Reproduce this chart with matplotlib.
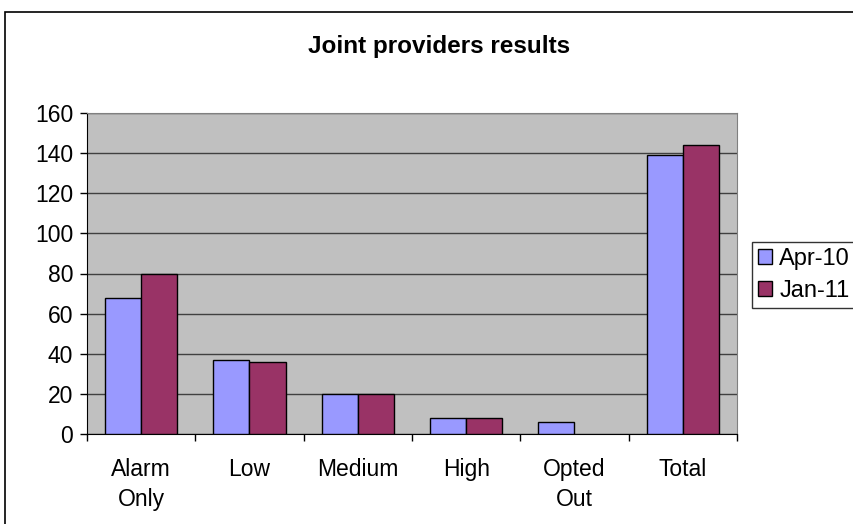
import numpy as np
import matplotlib
matplotlib.use('Agg')
import matplotlib.pyplot as plt
from matplotlib.patches import Rectangle

plt.rcParams['font.family'] = ['Liberation Sans', 'DejaVu Sans']

# data
categories = ['Alarm\nOnly', 'Low', 'Medium', 'High', 'Opted\nOut', 'Total']
apr10 = [68, 37, 20, 8, 6, 139]
jan11 = [80, 36, 20, 8, 0, 144]
series_names = ['Apr-10', 'Jan-11']

fig = plt.figure(figsize=(8.54, 5.24), dpi=100)
# outer chart frame
fig.patches.append(Rectangle((5/854, -0.05), 1.0, 1 - 12/524 + 0.05,
                             transform=fig.transFigure, fill=False,
                             edgecolor='black', lw=1.2, clip_on=False))

ax = fig.add_axes([87/854, 1 - 434/524, 650/854, 321/524])
ax.set_facecolor('#C0C0C0')

x = np.arange(len(categories))
w = 1/3
b1 = ax.bar(x - w/2, apr10, w, color='#9999FF', edgecolor='black', lw=1,
            label=series_names[0], zorder=3)
b2 = ax.bar(x + w/2, jan11, w, color='#993366', edgecolor='black', lw=1,
            label=series_names[1], zorder=3)
# empty bars draw nothing
for bars, vals in ((b1, apr10), (b2, jan11)):
    for r, v in zip(bars, vals):
        if v == 0:
            r.set_visible(False)

ax.set_xlim(-0.5, len(categories) - 0.5)
ax.set_ylim(0, 160)
ax.set_yticks(np.arange(0, 161, 20))
ax.yaxis.grid(True, color='#404040', lw=1, zorder=1)
ax.set_axisbelow(True)

ax.set_xticks(x)
ax.set_xticklabels(categories, fontsize=16.5, linespacing=1.4)
ax.set_xticks(np.arange(-0.5, len(categories)), minor=True)
ax.tick_params(axis='x', which='major', length=0, pad=17)
ax.tick_params(axis='x', which='minor', length=5, width=1, color='black')
ax.tick_params(axis='y', length=5, width=1, labelsize=16.5, pad=5)

for s in ['top', 'right']:
    ax.spines[s].set_color('#808080')
ax.spines['left'].set_color('black')
ax.spines['bottom'].set_color('black')

fig.text(439/854, 1 - 47/524, 'Joint providers results', ha='center',
         va='center', fontsize=17.5, fontweight='bold')

leg = ax.legend(loc='center left', bbox_to_anchor=(752/854, 1 - 275/524),
                bbox_transform=fig.transFigure, fontsize=17, frameon=True,
                fancybox=False, edgecolor='black', borderpad=0.25,
                handlelength=0.6, handleheight=0.6, handletextpad=0.3,
                labelspacing=0.4, borderaxespad=0)
leg.get_frame().set_linewidth(1)

fig.savefig('out.png', dpi=100)
